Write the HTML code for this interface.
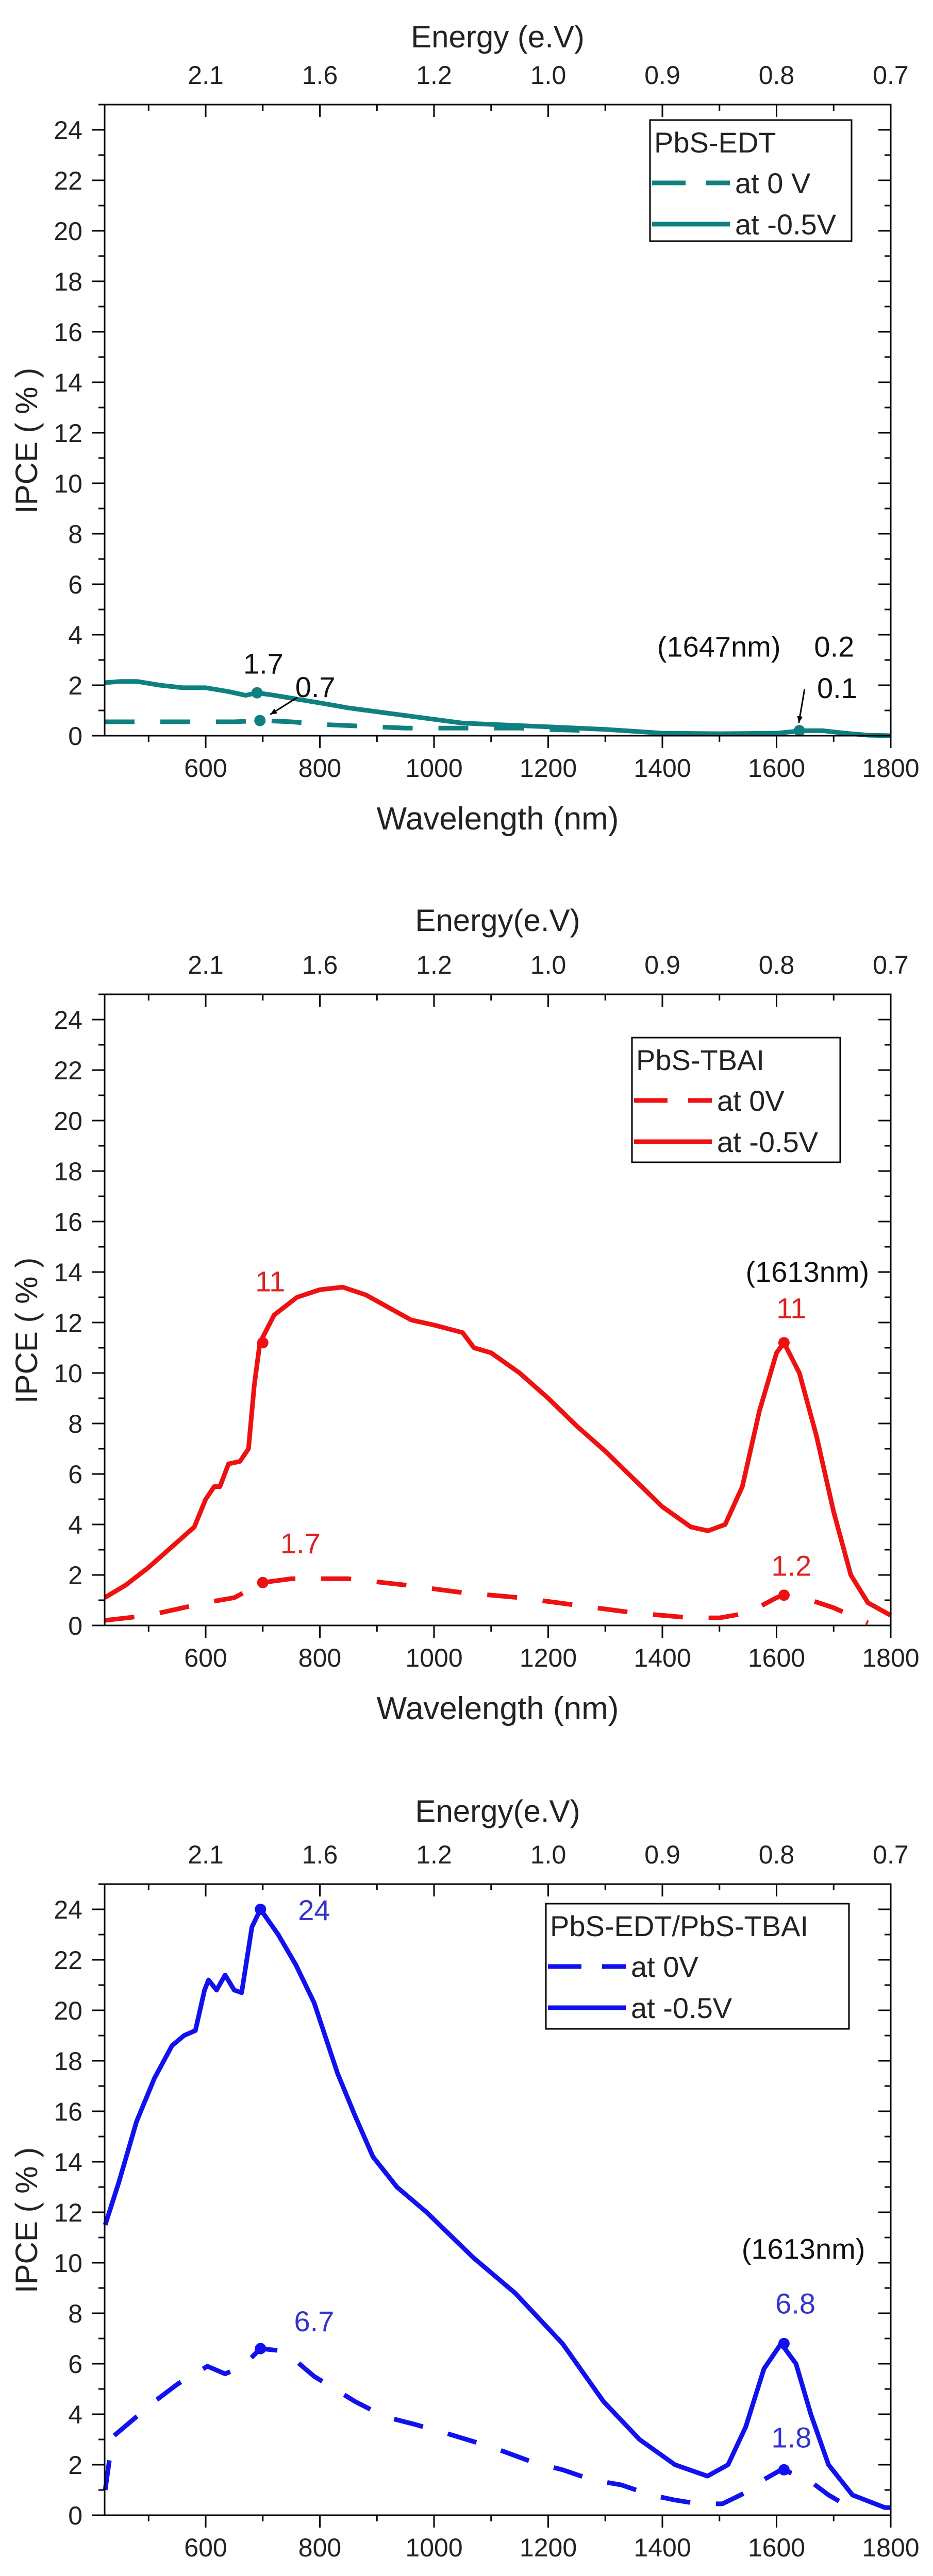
<!DOCTYPE html>
<html><head><meta charset="utf-8"><style>
html,body{margin:0;padding:0;background:#fff;width:1810px;height:5103px;overflow:hidden}
svg{display:block}
text{font-family:"Liberation Sans",Arial,sans-serif}
</style></head><body>
<svg id="fig" width="1810" height="5103" viewBox="0 0 1810 5103" xmlns="http://www.w3.org/2000/svg"></svg>
<script>
// ---- data ----
const xTicks = [600, 800, 1000, 1200, 1400, 1600, 1800];
const energyLabels = ["2.1", "1.6", "1.2", "1.0", "0.9", "0.8", "0.7"];
const yTicks = [0, 2, 4, 6, 8, 10, 12, 14, 16, 18, 20, 22, 24];

const edtSolidW = [423,450,480,520,560,600,640,670,690,720,760,800,850,900,950,1000,1050,1100,1150,1200,1300,1400,1500,1600,1647,1680,1720,1760,1800];
const edtSolidV = [2.1,2.15,2.15,2.0,1.9,1.9,1.75,1.6,1.7,1.6,1.45,1.3,1.1,0.95,0.8,0.65,0.5,0.45,0.4,0.35,0.25,0.1,0.08,0.1,0.2,0.2,0.1,0.02,0.0];
const edtDashW = [423,500,600,650,700,750,800,850,900,950,1000,1050,1100,1150,1200,1270];
const edtDashV = [0.55,0.55,0.55,0.55,0.6,0.55,0.45,0.4,0.35,0.3,0.3,0.3,0.3,0.3,0.25,0.2];

const tbaiSolidW = [423,460,500,530,560,580,600,615,625,640,660,675,685,695,720,760,800,840,880,920,960,1000,1050,1070,1100,1150,1200,1250,1300,1350,1400,1450,1480,1510,1540,1570,1600,1613,1640,1670,1700,1730,1760,1800];
const tbaiSolidV = [1.1,1.6,2.3,2.9,3.5,3.9,5.0,5.5,5.5,6.4,6.5,7.0,9.5,11.2,12.3,13.0,13.3,13.4,13.1,12.6,12.1,11.9,11.6,11.0,10.8,10.0,9.0,7.9,6.9,5.8,4.7,3.9,3.75,4.0,5.5,8.5,10.8,11.2,10.0,7.5,4.5,2.0,0.9,0.4];
const tbaiDashW = [423,500,600,650,700,750,850,950,1050,1150,1250,1350,1450,1500,1550,1600,1613,1660,1700,1740,1760];
const tbaiDashV = [0.2,0.4,0.9,1.1,1.7,1.85,1.85,1.6,1.3,1.1,0.8,0.5,0.3,0.3,0.5,1.1,1.2,1.0,0.7,0.3,0.1];

const bothSolidW = [424,448,479,510,541,562,582,598,605,619,634,650,663,681,696,727,758,790,831,862,893,935,987,1069,1142,1225,1297,1360,1422,1479,1515,1546,1578,1608,1634,1660,1691,1733,1790,1800];
const bothSolidV = [11.5,13.2,15.6,17.3,18.6,19.0,19.2,20.8,21.2,20.8,21.4,20.8,20.7,23.3,24.0,23.0,21.8,20.3,17.5,15.8,14.2,13.0,12.0,10.2,8.8,6.8,4.5,3.0,2.0,1.55,2.0,3.5,5.8,6.8,6.0,4.0,2.0,0.8,0.3,0.3];
const bothDashW = [424,437,510,551,603,634,665,696,738,790,862,914,966,1028,1101,1173,1225,1277,1328,1380,1422,1463,1505,1546,1577,1608,1650,1691,1733];
const bothDashV = [1.0,3.1,4.5,5.2,5.9,5.6,5.9,6.6,6.5,5.5,4.5,3.9,3.6,3.2,2.7,2.1,1.8,1.4,1.2,0.8,0.6,0.45,0.45,0.9,1.4,1.8,1.5,0.8,0.25];

// ---- layout ----
const NS = "http://www.w3.org/2000/svg";
const svg = document.getElementById("fig");
const L = 203, R = 1728, H = 1225, XMIN = 423, XMAX = 1800, YMAX = 25;
const xs = w => L + (w - XMIN) / (XMAX - XMIN) * (R - L);
function mk(tag, attrs, parent, txt){
  const e = document.createElementNS(NS, tag);
  for (const k in attrs) e.setAttribute(k, attrs[k]);
  if (txt !== undefined) e.textContent = txt;
  (parent || svg).appendChild(e);
  return e;
}

const panels = [
  {top:203, color:"#0f8080", key:"edt", title:"Energy (e.V)", titleDy:133,
   sW:edtSolidW, sV:edtSolidV, dW:edtDashW, dV:edtDashV,
   legend:{x:1261,y:233,w:391,h:235,t:"PbS-EDT",l0:"at 0 V",l1:"at -0.5V"},
   markers:[[690,1.7],[695,0.6],[1640,0.2]],
   labels:[[701,2.87,"1.7","#111"],[792,1.94,"0.7","#111"],[1499,3.54,"(1647nm)","#111"],[1701,3.54,"0.2","#111"],[1706,1.90,"0.1","#111"]],
   arrows:[[760,1.51,713,0.84],[1649,1.84,1639,0.51]]},
  {top:1930, color:"#ee1111", key:"tbai", title:"Energy(e.V)", titleDy:145,
   sW:tbaiSolidW, sV:tbaiSolidV, dW:tbaiDashW, dV:tbaiDashV,
   legend:{x:1226,y:2014,w:404,h:242,t:"PbS-TBAI",l0:"at 0V",l1:"at -0.5V"},
   markers:[[700,11.2],[1613,11.2],[700,1.7],[1613,1.2]],
   labels:[[713,13.64,"11","#dd2222"],[1654,14.02,"(1613nm)","#111"],[1626,12.58,"11","#dd2222"],[766,3.27,"1.7","#dd2222"],[1626,2.38,"1.2","#dd2222"]],
   arrows:[]},
  {top:3657, color:"#1111ee", key:"edt-tbai", title:"Energy(e.V)", titleDy:143,
   sW:bothSolidW, sV:bothSolidV, dW:bothDashW, dV:bothDashV,
   legend:{x:1059,y:3695,w:588,h:243,t:"PbS-EDT/PbS-TBAI",l0:"at 0V",l1:"at -0.5V"},
   markers:[[696,24.0],[696,6.6],[1613,6.8],[1613,1.8]],
   labels:[[790,23.98,"24","#3333cc"],[790,7.69,"6.7","#3333cc"],[1647,10.56,"(1613nm)","#111"],[1633,8.40,"6.8","#3333cc"],[1626,3.09,"1.8","#3333cc"]],
   arrows:[]}
];

panels.forEach(p => {
  const T = p.top, B = T + H;
  const ys = v => B - v / YMAX * H;
  const g = mk("g", {});
  
  

  const path = (W, V) => W.map((w,i)=>(i?"L":"M")+xs(w).toFixed(1)+","+ys(V[i]).toFixed(1)).join(" ");
  const dl = mk("path", {d:path(p.dW,p.dV), fill:"none", stroke:p.color, "stroke-width":9, "stroke-dasharray":"58 50", "stroke-linejoin":"round"}, g);
  
  
  const sl = mk("path", {d:path(p.sW,p.sV), fill:"none", stroke:p.color, "stroke-width":9, "stroke-linejoin":"round"}, g);
  
  

  p.markers.forEach(m => {
    const c = mk("circle", {cx:xs(m[0]), cy:ys(m[1]), r:11, fill:p.color}, g);
    
    
  });

  const fr = mk("rect", {x:L, y:T, width:R-L, height:H, fill:"none", stroke:"#000", "stroke-width":3}, g);
  
  

  for (let w = 500; w <= 1800; w += 100) {
    const maj = w % 200 === 0, x = xs(w), len = maj ? 24 : 12;
    mk("line", {x1:x, x2:x, y1:B, y2:B+len, stroke:"#000", "stroke-width":3}, g);
    mk("line", {x1:x, x2:x, y1:T, y2:T+len, stroke:"#000", "stroke-width":3}, g);
  }
  xTicks.forEach((w,i) => {
    const t = mk("text", {x:xs(w), y:B+80, "font-size":50, "text-anchor":"middle", fill:"#222"}, g, String(w));
    
    
    const e = mk("text", {x:xs(w), y:T-40, "font-size":50, "text-anchor":"middle", fill:"#222"}, g, energyLabels[i]);
    
    
  });
  for (let v = 0; v <= 25; v += 1) {
    const maj = v % 2 === 0, y = ys(v), len = maj ? 24 : 12;
    mk("line", {x1:L-len, x2:L, y1:y, y2:y, stroke:"#000", "stroke-width":3}, g);
    mk("line", {x1:R-len, x2:R, y1:y, y2:y, stroke:"#000", "stroke-width":3}, g);
  }
  yTicks.forEach(v => {
    const t = mk("text", {x:160, y:ys(v)+18, "font-size":50, "text-anchor":"end", fill:"#222"}, g, String(v));
    
    
  });

  const xt = mk("text", {x:(L+R)/2, y:B+182, "font-size":62, "text-anchor":"middle", fill:"#222"}, g, "Wavelength (nm)");
  
  
  const et = mk("text", {x:(L+R)/2, y:T-p.titleDy+22, "font-size":60, "text-anchor":"middle", fill:"#222"}, g, p.title);
  
  
  const yt = mk("text", {x:0, y:0, "font-size":60, "text-anchor":"middle", fill:"#222", transform:`translate(72,${T+H/2+40}) rotate(-90)`}, g, "IPCE ( % )");
  
  

  const lg = p.legend;
  const lgG = mk("g", {}, g);
  
  
  mk("rect", {x:lg.x, y:lg.y, width:lg.w, height:lg.h, fill:"#fff", stroke:"#000", "stroke-width":3}, lgG);
  mk("text", {x:lg.x+8, y:lg.y+63, "font-size":56, fill:"#222"}, lgG, lg.t);
  const sx0 = lg.x+4, sx1 = lg.x+155;
  mk("line", {x1:sx0, x2:sx1, y1:lg.y+122, y2:lg.y+122, stroke:p.color, "stroke-width":9, "stroke-dasharray":"65 40"}, lgG);
  const e0 = mk("text", {x:sx1+10, y:lg.y+142, "font-size":56, fill:"#222"}, lgG, lg.l0);
  
  
  mk("line", {x1:sx0, x2:sx1, y1:lg.y+202, y2:lg.y+202, stroke:p.color, "stroke-width":9}, lgG);
  const e1 = mk("text", {x:sx1+10, y:lg.y+222, "font-size":56, fill:"#222"}, lgG, lg.l1);
  
  

  p.labels.forEach(a => {
    const t = mk("text", {x:xs(a[0]), y:ys(a[1])+20, "font-size":56, "text-anchor":"middle", fill:a[3]}, g, a[2]);
    
    
  });
  p.arrows.forEach(a => {
    const x1=xs(a[0]), y1=ys(a[1]), x2=xs(a[2]), y2=ys(a[3]);
    const ang = Math.atan2(y2-y1, x2-x1), s=14;
    const ln = mk("line", {x1, y1, x2, y2, stroke:"#000", "stroke-width":3}, g);
    
    
    mk("polygon", {points:`${x2},${y2} ${x2-s*Math.cos(ang-0.4)},${y2-s*Math.sin(ang-0.4)} ${x2-s*Math.cos(ang+0.4)},${y2-s*Math.sin(ang+0.4)}`, fill:"#000"}, g);
  });
});
</script>
</body></html>
